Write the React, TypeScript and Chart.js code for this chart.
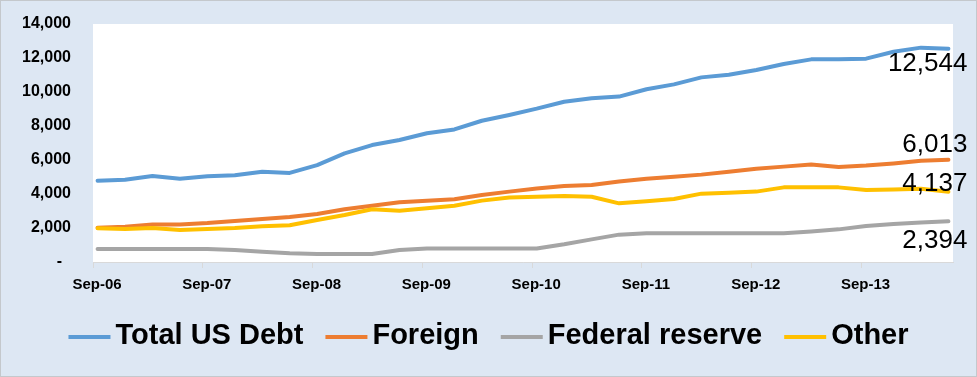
import React, { useEffect, useRef } from "react";
import { Chart, registerables } from "chart.js";

Chart.register(...registerables);

const quarters = [
  "Sep-06", "Dec-06", "Mar-07", "Jun-07", "Sep-07", "Dec-07", "Mar-08", "Jun-08",
  "Sep-08", "Dec-08", "Mar-09", "Jun-09", "Sep-09", "Dec-09", "Mar-10", "Jun-10",
  "Sep-10", "Dec-10", "Mar-11", "Jun-11", "Sep-11", "Dec-11", "Mar-12", "Jun-12",
  "Sep-12", "Dec-12", "Mar-13", "Jun-13", "Sep-13", "Dec-13", "Mar-14", "Jun-14",
];

const totalDebt = [
  4780, 4840, 5060, 4900, 5040, 5100, 5310, 5240,
  5700, 6390, 6880, 7180, 7570, 7800, 8310, 8650,
  9020, 9430, 9630, 9730, 10160, 10450, 10860, 11020,
  11290, 11650, 11920, 11920, 11960, 12370, 12610, 12544,
];
const foreign = [
  2020, 2080, 2200, 2210, 2290, 2410, 2530, 2650,
  2820, 3100, 3310, 3510, 3610, 3690, 3940, 4140,
  4330, 4470, 4530, 4730, 4900, 5020, 5140, 5310,
  5490, 5610, 5730, 5590, 5670, 5800, 5960, 6013,
];
const federalReserve = [
  760, 760, 760, 760, 760, 700, 610, 510,
  470, 470, 470, 700, 800, 800, 800, 800,
  800, 1040, 1330, 1610, 1690, 1690, 1690, 1690,
  1690, 1690, 1800, 1920, 2120, 2240, 2330, 2394,
];
const other = [
  1980, 1940, 2000, 1880, 1940, 2000, 2100, 2160,
  2470, 2760, 3100, 3020, 3160, 3310, 3610, 3790,
  3840, 3880, 3840, 3450, 3570, 3710, 4020, 4080,
  4140, 4390, 4390, 4390, 4240, 4270, 4310, 4137,
];

const seriesNames = ["Total US Debt", "Foreign", "Federal reserve", "Other"];
const seriesColors = ["#5B9BD5", "#ED7D31", "#A5A5A5", "#FFC000"];
const seriesValues = [totalDebt, foreign, federalReserve, other];

const xTickLabels = ["Sep-06", "Sep-07", "Sep-08", "Sep-09", "Sep-10", "Sep-11", "Sep-12", "Sep-13"];
const yTickValues = [0, 2000, 4000, 6000, 8000, 10000, 12000, 14000];
const yTickLabels = ["-  ", "2,000", "4,000", "6,000", "8,000", "10,000", "12,000", "14,000"];

// vertical offsets of end-value labels (style)
const endLabelDy = [15, -15, 20, -8];

const BG = "#DDE7F3";

export default function App() {
  const ref = useRef<HTMLCanvasElement | null>(null);

  useEffect(() => {
    document.body.style.margin = "0";
    const canvas = ref.current;
    if (!canvas) return;

    const customPlugin = {
      id: "customDecor",
      beforeDraw(chart: any) {
        const { ctx, chartArea } = chart;
        ctx.save();
        ctx.fillStyle = BG;
        ctx.fillRect(0, 0, chart.width, chart.height);
        ctx.fillStyle = "#FFFFFF";
        ctx.fillRect(chartArea.left, chartArea.top, chartArea.right - chartArea.left, chartArea.bottom - chartArea.top);
        ctx.restore();
      },
      afterDraw(chart: any) {
        const { ctx } = chart;
        ctx.save();
        // end value labels
        ctx.font = '26px "Liberation Sans"';
        ctx.fillStyle = "#000000";
        ctx.textAlign = "right";
        ctx.textBaseline = "middle";
        chart.data.datasets.forEach((ds: any, i: number) => {
          const meta = chart.getDatasetMeta(i);
          const pt = meta.data[meta.data.length - 1];
          const v = seriesValues[i][seriesValues[i].length - 1];
          ctx.fillText(v.toLocaleString("en-US"), pt.x + 19, pt.y + endLabelDy[i]);
        });

        // legend
        ctx.font = 'bold 29px "Liberation Sans"';
        ctx.textAlign = "left";
        const lineLen = 42;
        const gapLine = 5;
        const gapItem = 22;
        const widths = seriesNames.map((n) => ctx.measureText(n).width);
        const total =
          widths.reduce((a, b) => a + b, 0) + seriesNames.length * (lineLen + gapLine) + gapItem * (seriesNames.length - 1);
        let x = (chart.width - total) / 2;
        const y = 336;
        seriesNames.forEach((n, i) => {
          ctx.strokeStyle = seriesColors[i];
          ctx.lineWidth = 4;
          ctx.lineCap = "butt";
          ctx.beginPath();
          ctx.moveTo(x, y + 1);
          ctx.lineTo(x + lineLen, y + 1);
          ctx.stroke();
          x += lineLen + gapLine;
          ctx.fillStyle = "#000000";
          ctx.fillText(n, x, y);
          x += widths[i] + gapItem;
        });

        // outer border
        ctx.strokeStyle = "#C4C8CC";
        ctx.lineWidth = 1;
        ctx.strokeRect(0.5, 0.5, chart.width - 1, chart.height - 1);
        ctx.restore();
      },
    };

    const chart = new Chart(canvas, {
      type: "line",
      data: {
        datasets: seriesNames.map((name, i) => ({
          label: name,
          data: seriesValues[i].map((v, k) => ({ x: quarters.indexOf(quarters[k]) * 3 + 0.5, y: v })),
          borderColor: seriesColors[i],
          backgroundColor: seriesColors[i],
          borderWidth: 4,
          pointRadius: 0,
          tension: 0,
          borderCapStyle: "round",
          borderJoinStyle: "round",
          fill: false,
          order: seriesNames.length - i,
        })),
      },
      options: {
        responsive: false,
        animation: false,
        events: [],
        layout: { padding: { left: 0, right: 24, top: 24, bottom: 75 } },
        plugins: {
          legend: { display: false },
          tooltip: { enabled: false },
        },
        scales: {
          x: {
            type: "linear",
            min: 0,
            max: 94,
            afterBuildTicks: (scale: any) => {
              scale.ticks = xTickLabels.map((_, i) => ({ value: i * 12 }));
            },
            afterFit: (scale: any) => {
              scale.height = 40;
            },
            ticks: {
              callback: (_v: any, i: number) => xTickLabels[i],
              font: { family: '"Liberation Sans"', size: 15, weight: "bold" },
              color: "#000000",
              padding: 8,
              labelOffset: 4,
              maxRotation: 0,
              autoSkip: false,
            },
            grid: {
              drawOnChartArea: false,
              drawTicks: true,
              tickLength: 6,
              color: "#D9D9D9",
            },
            border: { display: true, color: "#D9D9D9" },
          },
          y: {
            type: "linear",
            min: 0,
            max: 14000,
            afterBuildTicks: (scale: any) => {
              scale.ticks = yTickValues.map((v) => ({ value: v }));
            },
            afterFit: (scale: any) => {
              scale.width = 93;
            },
            ticks: {
              callback: (_v: any, i: number) => yTickLabels[i],
              font: { family: '"Liberation Sans"', size: 16, weight: "bold" },
              color: "#000000",
              padding: 3,
            },
            grid: {
              display: true,
              drawOnChartArea: false,
              drawTicks: true,
              tickLength: 19,
              color: "rgba(0,0,0,0)",
            },
            border: { display: false },
          },
        },
      },
      plugins: [customPlugin],
    } as any);

    return () => chart.destroy();
  }, []);

  return (
    <div style={{ width: 977, height: 377 }}>
      <canvas ref={ref} width={977} height={377} style={{ display: "block" }} />
    </div>
  );
}
